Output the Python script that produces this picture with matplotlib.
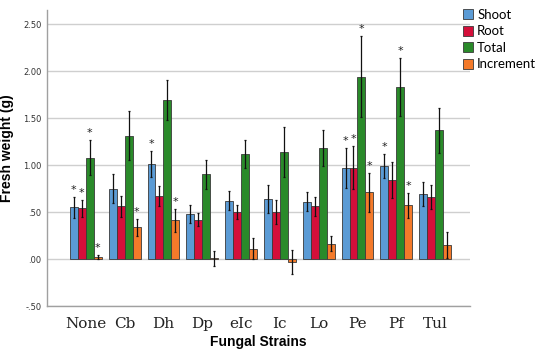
import matplotlib
matplotlib.use("Agg")
import matplotlib.pyplot as plt
import numpy as np

categories = ["None", "Cb", "Dh", "Dp", "eIc", "Ic", "Lo", "Pe", "Pf", "Tul"]
series_names = ["Shoot", "Root", "Total", "Increment"]

shoot = [0.55, 0.75, 1.01, 0.48, 0.62, 0.64, 0.61, 0.97, 0.99, 0.69]
shoot_err = [0.11, 0.15, 0.14, 0.10, 0.10, 0.15, 0.10, 0.21, 0.13, 0.13]
root = [0.54, 0.56, 0.67, 0.42, 0.50, 0.50, 0.56, 0.97, 0.84, 0.66]
root_err = [0.09, 0.11, 0.11, 0.07, 0.07, 0.13, 0.10, 0.23, 0.19, 0.13]
total = [1.08, 1.31, 1.69, 0.90, 1.12, 1.14, 1.18, 1.94, 1.83, 1.37]
total_err = [0.19, 0.26, 0.21, 0.15, 0.15, 0.27, 0.19, 0.43, 0.31, 0.24]
increment = [0.02, 0.34, 0.41, 0.01, 0.11, -0.03, 0.16, 0.71, 0.57, 0.15]
increment_err = [0.02, 0.09, 0.12, 0.08, 0.11, 0.13, 0.08, 0.21, 0.13, 0.14]

# significance flags (1 = asterisk)
shoot_sig = [1, 0, 1, 0, 0, 0, 0, 1, 1, 0]
root_sig = [1, 0, 0, 0, 0, 0, 0, 1, 0, 0]
total_sig = [1, 0, 0, 0, 0, 0, 0, 1, 1, 0]
increment_sig = [1, 1, 1, 0, 0, 0, 0, 1, 1, 0]

values = [shoot, root, total, increment]
errors = [shoot_err, root_err, total_err, increment_err]
sigs = [shoot_sig, root_sig, total_sig, increment_sig]
colors = ["#5b9bd5", "#d40f3a", "#2a8a2a", "#f47a2a"]

fig = plt.figure(figsize=(5.45, 3.56), dpi=100)
ax = fig.add_axes([47/545, 1 - 306/356, (470-47)/545, (306-10)/356])

x = np.arange(len(categories))
w = 0.205
offsets = [-1.5*w, -0.5*w, 0.5*w, 1.5*w]
for name, vals, errs, sg, c, off in zip(series_names, values, errors, sigs, colors, offsets):
    ax.bar(x + off, vals, w, color=c, edgecolor="#3a3a3a", linewidth=0.6, label=name, zorder=3)
    ax.errorbar(x + off, vals, yerr=errs, fmt="none", ecolor="#111111", elinewidth=0.9,
                capsize=1.0, capthick=0.9, zorder=4)
    for xi, v, e, s in zip(x + off, vals, errs, sg):
        if s:
            ax.text(xi, v + e + 0.02, "*", ha="center", va="bottom", fontsize=8,
                    color="#222222", zorder=5)

ax.set_xlim(-1.0, 9.9)
ax.set_ylim(-0.5, 2.65)
yt = [-0.5, 0.0, 0.5, 1.0, 1.5, 2.0, 2.5]
ax.set_yticks(yt)
ax.set_yticklabels(["-.50", ".00", ".50", "1.00", "1.50", "2.00", "2.50"],
                   fontsize=6, color="#333333", family="DejaVu Sans")
ax.yaxis.grid(True, color="#cfcfcf", linewidth=1.0, zorder=0)
ax.set_axisbelow(True)
ax.set_xticks(x)
ax.set_xticklabels(categories, fontsize=11, family="DejaVu Serif", color="#222222")
ax.tick_params(axis="both", length=0, pad=4)
ax.tick_params(axis="x", pad=8)

for s in ["top", "right"]:
    ax.spines[s].set_visible(False)
for s in ["left", "bottom"]:
    ax.spines[s].set_color("#a0a0a0")
    ax.spines[s].set_linewidth(1.0)

ax.set_ylabel("Fresh weight (g)", fontsize=10, fontweight="bold", family="Liberation Sans")
ax.yaxis.set_label_coords(-0.078, 0.534)
ax.set_xlabel("Fungal Strains", fontsize=10, fontweight="bold", family="Liberation Sans",
              labelpad=3)

leg = fig.legend(loc="upper left", bbox_to_anchor=(460/545, 1 - 6/356), frameon=False,
                 prop={"family": "Lato", "size": 9.5}, handlelength=0.8, handleheight=0.8,
                 handletextpad=0.3, labelspacing=0.35, borderaxespad=0, borderpad=0.2)

fig.savefig("out.png", dpi=100)
